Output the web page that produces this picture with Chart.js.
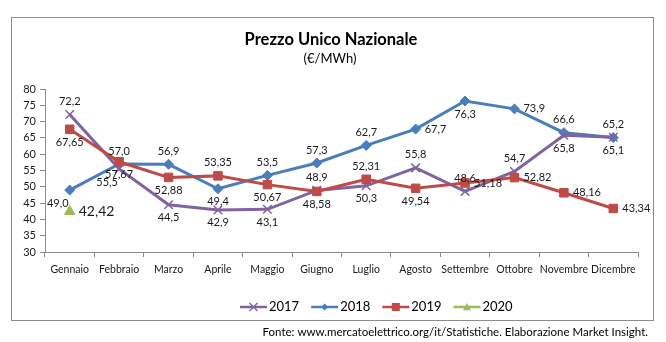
<!DOCTYPE html>
<html>
<head>
<meta charset="utf-8">
<script src="https://cdn.jsdelivr.net/npm/chart.js@4/dist/chart.umd.min.js"></script>
<style>
  html, body { margin: 0; padding: 0; background: #fff; }
  #wrap { width: 666px; height: 342px; position: relative; }
</style>
</head>
<body>
<div id="wrap"><canvas id="chart-1" width="666" height="342"></canvas></div>
<script>
const months = ['Gennaio', 'Febbraio', 'Marzo', 'Aprile', 'Maggio', 'Giugno', 'Luglio', 'Agosto', 'Settembre', 'Ottobre', 'Novembre', 'Dicembre'];
const pun2017 = [72.2, 55.5, 44.5, 42.9, 43.1, 48.9, 50.3, 55.8, 48.6, 54.7, 65.8, 65.2];
const pun2018 = [49.0, 57.0, 56.9, 49.4, 53.5, 57.3, 62.7, 67.7, 76.3, 73.9, 66.6, 65.1];
const pun2019 = [67.65, 57.67, 52.88, 53.35, 50.67, 48.58, 52.31, 49.54, 51.18, 52.82, 48.16, 43.34];
const pun2020 = [42.42];
const yTicks = [30, 35, 40, 45, 50, 55, 60, 65, 70, 75, 80];

// where each value label sits: a = above, b = below, l = left, r = right
const labelPos = {
  '2017': ['a', 'bl', 'b', 'b', 'b', 'a', 'b', 'a', 'a', 'a', 'b', 'a'],
  '2018': ['l', 'a', 'a', 'b', 'a', 'a', 'a', 'r', 'b', 'r', 'a', 'b'],
  '2019': ['b', 'b', 'b', 'a', 'b', 'b', 'a', 'b', 'r', 'r', 'r', 'r'],
  '2020': ['r'],
};

const FONT = 'Lato, "Open Sans", sans-serif';

const series = [
  { label: '2017', data: pun2017, color: '#8064A2', style: 'crossRot', radius: 6, dec: 1, order: 2 },
  { label: '2018', data: pun2018, color: '#4A7EBB', style: 'rectRot', radius: 5, dec: 1, order: 3 },
  { label: '2019', data: pun2019, color: '#BE4B48', style: 'rect', radius: 6, dec: 2, order: 1 },
  { label: '2020', data: pun2020, color: '#9BBB59', style: 'triangle', radius: 6, dec: 2, order: 0 },
];

const fmt = (v, dec) => v.toFixed(dec).replace('.', ',');

const frame = {
  id: 'frame',
  beforeDraw(chart) {
    const ctx = chart.ctx;
    ctx.save();
    ctx.fillStyle = '#fff';
    ctx.fillRect(0, 0, chart.width, chart.height);
    ctx.strokeStyle = '#8c8c8c';
    ctx.lineWidth = 1;
    ctx.strokeRect(11.5, 17.5, 642, 303);
    ctx.fillStyle = '#000';
    ctx.textAlign = 'center';
    ctx.textBaseline = 'middle';
    ctx.font = 'bold 16.5px ' + FONT;
    ctx.fillText('Prezzo Unico Nazionale', 331, 40);
    ctx.font = '13px ' + FONT;
    ctx.fillText('(€/MWh)', 330, 59);
    ctx.font = '11.5px ' + FONT;
    ctx.textAlign = 'right';
    ctx.fillText('Fonte: www.mercatoelettrico.org/it/Statistiche. Elaborazione Market Insight.', 648, 332);
    ctx.restore();
  },
};

const drawMarker = (ctx, style, x, y, r, color) => {
  ctx.save();
  ctx.fillStyle = color;
  ctx.strokeStyle = color;
  ctx.lineWidth = 1.5;
  ctx.beginPath();
  if (style === 'rect') {
    ctx.fillRect(x - r, y - r, 2 * r, 2 * r);
  } else if (style === 'rectRot') {
    ctx.moveTo(x, y - r); ctx.lineTo(x + r, y); ctx.lineTo(x, y + r); ctx.lineTo(x - r, y);
    ctx.closePath(); ctx.fill();
  } else if (style === 'triangle') {
    ctx.moveTo(x, y - r); ctx.lineTo(x + r, y + r * 0.8); ctx.lineTo(x - r, y + r * 0.8);
    ctx.closePath(); ctx.fill();
  } else {
    ctx.moveTo(x - r, y - r); ctx.lineTo(x + r, y + r);
    ctx.moveTo(x + r, y - r); ctx.lineTo(x - r, y + r);
    ctx.stroke();
  }
  ctx.restore();
};

const legend = {
  id: 'customLegend',
  afterDraw(chart) {
    const ctx = chart.ctx;
    let x = 240;
    const y = 307;
    ctx.save();
    ctx.font = '13px ' + FONT;
    ctx.textBaseline = 'middle';
    ctx.textAlign = 'left';
    series.forEach((s) => {
      ctx.strokeStyle = s.color;
      ctx.lineWidth = 2.5;
      ctx.beginPath();
      ctx.moveTo(x, y);
      ctx.lineTo(x + 27, y);
      ctx.stroke();
      drawMarker(ctx, s.style, x + 13.5, y, s.style === 'rectRot' ? 3.5 : 4, s.color);
      ctx.fillStyle = '#000';
      ctx.fillText(s.label, x + 29, y);
      x += 29 + ctx.measureText(s.label).width + 12;
    });
    ctx.restore();
  },
};

const valueLabels = {
  id: 'valueLabels',
  afterDatasetsDraw(chart) {
    const ctx = chart.ctx;
    ctx.save();
    ctx.fillStyle = '#1a1a1a';
    chart.data.datasets.forEach((ds, di) => {
      const s = series[di];
      const meta = chart.getDatasetMeta(di);
      const pos = labelPos[s.label];
      ctx.font = (s.label === '2020' ? '14px ' : '11px ') + FONT;
      meta.data.forEach((pt, i) => {
        const txt = fmt(ds.data[i], s.dec);
        const p = pos[i];
        let x = pt.x, y = pt.y;
        ctx.textBaseline = 'middle';
        ctx.textAlign = 'center';
        if (p === 'a') { y -= 13; }
        else if (p === 'b') { y += 13; }
        else if (p === 'bl') { x -= 12; y += 14; }
        else if (p === 'l') { x -= 12; y += 13; }
        else if (p === 'r') { ctx.textAlign = 'left'; x += 9; }
        ctx.fillText(txt, x, y);
      });
    });
    ctx.restore();
  },
};

const initChart1 = () => {
  const data = {
    labels: months,
    datasets: series.map((s) => ({
      label: s.label,
      data: s.data,
      borderColor: s.color,
      backgroundColor: s.color,
      borderWidth: 3,
      pointStyle: s.style,
      pointRadius: s.radius,
      pointBorderWidth: s.style === 'crossRot' ? 1.5 : 1,
      pointBorderColor: s.color,
      pointBackgroundColor: s.color,
      tension: 0,
      order: s.order,
      clip: false,
    })),
  };

  const config = {
    type: 'line',
    data: data,
    options: {
      responsive: false,
      animation: false,
      layout: {
        autoPadding: false,
        padding: { left: 0, right: 28, top: 89, bottom: 0 },
      },
      plugins: {
        legend: { display: false },
        title: { display: false },
        tooltip: { enabled: false },
      },
      scales: {
        x: {
          offset: true,
          grid: { offset: true, drawOnChartArea: false, tickLength: 5, color: '#8c8c8c' },
          border: { color: '#8c8c8c' },
          ticks: { color: '#1a1a1a', font: { family: FONT, size: 10.5 }, padding: 6, maxRotation: 0, autoSkip: false },
          afterFit: (scale) => { scale.height = 90; },
        },
        y: {
          min: 30,
          max: 80,
          afterBuildTicks: (scale) => { scale.ticks = yTicks.map((v) => ({ value: v })); },
          grid: { drawOnChartArea: false, tickLength: 5, color: '#8c8c8c' },
          border: { color: '#8c8c8c' },
          ticks: { color: '#1a1a1a', font: { family: FONT, size: 11 }, padding: 4 },
          afterFit: (scale) => { scale.width = 45; },
        },
      },
    },
    plugins: [frame, valueLabels, legend],
  };

  return new Chart(document.getElementById('chart-1'), config);
};

const chart1 = initChart1();
</script>
</body>
</html>
